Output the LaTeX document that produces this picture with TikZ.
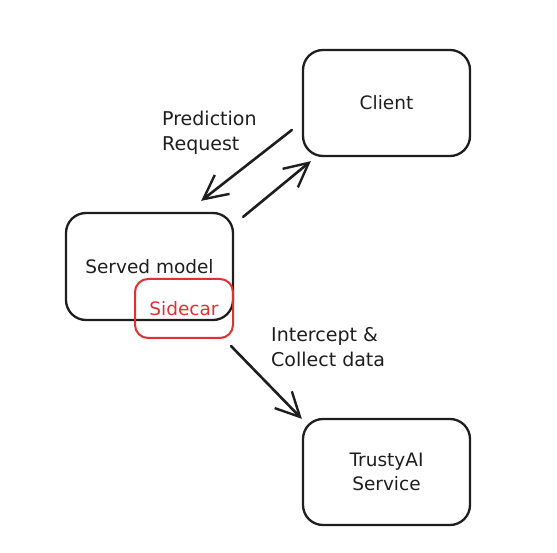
\documentclass[tikz,border=0pt]{standalone}
\usepackage{fontspec}
\setmainfont{DejaVu Sans}
\usetikzlibrary{arrows.meta}
\definecolor{ink}{HTML}{1E1E1E}
\definecolor{redink}{HTML}{E03131}
\begin{document}
\begin{tikzpicture}[x=1pt,y=-1pt,
  box/.style={draw=ink, line width=2.3pt, rounded corners=20pt, minimum width=167pt, minimum height=106pt, inner sep=0pt, align=center, text=ink, font=\fontsize{18.5}{24}\selectfont},
  carbox/.style={draw=redink, line width=2pt, rounded corners=13pt, minimum width=98pt, minimum height=59pt, inner sep=0pt, text=redink, font=\fontsize{18.5}{24}\selectfont},
  lbl/.style={align=left, anchor=north west, inner sep=0pt, text=ink, font=\fontsize{19}{25}\selectfont},
  conn/.style={draw=ink, line width=2.6pt, line cap=round, -{Straight Barb[length=24pt,width=24pt,line width=2.4pt]}}
]
\useasboundingbox (0,0) rectangle (557,553);
\node[box] (client) at (386.5,103) {Client};
\node[box, minimum height=107pt] (served) at (149.5,266.5) {Served model};
\node[carbox] (sidecar) at (184,308.5) {Sidecar};
\node[box] (trusty) at (386.5,472) {TrustyAI\\Service};
\node[lbl] (lblpred) at (162,111) {Prediction\\Request};
\node[lbl] (lblint) at (271,327) {Intercept \&\\Collect data};
\draw[conn] ([shift={(-10,27)}]client.west) -- ([shift={(-33,-11)}]served.north east);
\draw[conn] ([shift={(9,5)}]served.north east) -- ([shift={(9,4)}]client.south west);
\draw[conn] ([shift={(-3,7)}]sidecar.south east) -- ([shift={(0,1)}]trusty.north west);
\end{tikzpicture}
\end{document}
